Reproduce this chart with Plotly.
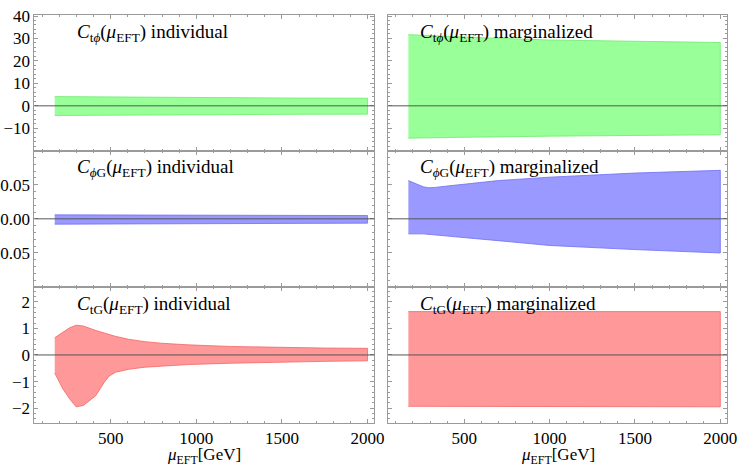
import plotly.graph_objects as go

# ---------- data ----------
# C_tphi individual / marginalized
mu_tphi = [173, 500, 1000, 1500, 2000]
tphi_ind_hi = [4.1, 3.9, 3.7, 3.5, 3.4]
tphi_ind_lo = [-4.3, -4.1, -3.9, -3.8, -3.7]
tphi_mar_hi = [31.7, 30.6, 29.3, 28.6, 28.2]
tphi_mar_lo = [-14.4, -14.0, -13.5, -13.1, -12.9]

# C_phiG individual / marginalized
mu_phig_ind = [173, 500, 1000, 1500, 2000]
phig_ind_hi = [0.0058, 0.0055, 0.0052, 0.0050, 0.0048]
phig_ind_lo = [-0.0078, -0.0073, -0.0068, -0.0065, -0.0063]
mu_phig_mar = [173, 220, 260, 290, 330, 400, 500, 700, 1000, 1500, 2000]
phig_mar_hi = [0.056, 0.051, 0.047, 0.0455, 0.046, 0.048, 0.051, 0.056, 0.061, 0.067, 0.071]
phig_mar_lo = [-0.022, -0.022, -0.022, -0.022, -0.023, -0.025, -0.027, -0.032, -0.039, -0.045, -0.050]

# C_tG individual / marginalized
mu_tg_ind = [173, 221, 260, 298, 340, 413, 460, 490, 528, 605, 700, 797, 953, 1200, 1500, 1750, 2000]
tg_ind_hi = [0.65, 0.87, 1.02, 1.12, 1.09, 0.92, 0.83, 0.77, 0.70, 0.59, 0.50, 0.44, 0.38, 0.32, 0.28, 0.26, 0.25]
tg_ind_lo = [-0.68, -1.28, -1.65, -1.95, -1.90, -1.53, -1.05, -0.80, -0.65, -0.54, -0.46, -0.41, -0.36, -0.31, -0.26, -0.24, -0.22]
mu_tg_mar = [173, 2000]
tg_mar_hi = [1.63, 1.63]
tg_mar_lo = [-1.93, -1.95]

# ---------- styling ----------
FONT = "Liberation Serif, DejaVu Serif, serif"
FRAME = "#9a9a9a"
X_RANGE = [55, 2040]

GREEN = ("rgb(153,255,153)", "rgb(110,235,110)")
BLUE = ("rgb(153,153,255)", "rgb(110,110,245)")
RED = ("rgb(255,153,153)", "rgb(245,100,100)")

# pixel geometry of the 747x468 frame
W, H = 747, 468
col_px = [(34, 379), (393, 737)]
row_px = [(7, 145), (145, 284), (284, 422)]

rows = [
    dict(rng=[-19.9, 40.5], dtick=10, minor=2,
         tv=None, tt=None,
         lab=("<i>C</i><sub>t<i>ϕ</i></sub>(<i>μ</i><sub>EFT</sub>) individual",
              "<i>C</i><sub>t<i>ϕ</i></sub>(<i>μ</i><sub>EFT</sub>) marginalized"),
         panels=[(mu_tphi, tphi_ind_hi, tphi_ind_lo), (mu_tphi, tphi_mar_hi, tphi_mar_lo)],
         col=GREEN),
    dict(rng=[-0.1, 0.1], dtick=0.05, minor=0.01,
         tv=[0.05, 0.0, -0.05], tt=["0.05", "0.00", "0.05"],
         lab=("<i>C</i><sub><i>ϕ</i>G</sub>(<i>μ</i><sub>EFT</sub>) individual",
              "<i>C</i><sub><i>ϕ</i>G</sub>(<i>μ</i><sub>EFT</sub>) marginalized"),
         panels=[(mu_phig_ind, phig_ind_hi, phig_ind_lo), (mu_phig_mar, phig_mar_hi, phig_mar_lo)],
         col=BLUE),
    dict(rng=[-2.55, 2.55], dtick=1, minor=0.2,
         tv=None, tt=None,
         lab=("<i>C</i><sub>tG</sub>(<i>μ</i><sub>EFT</sub>) individual",
              "<i>C</i><sub>tG</sub>(<i>μ</i><sub>EFT</sub>) marginalized"),
         panels=[(mu_tg_ind, tg_ind_hi, tg_ind_lo), (mu_tg_mar, tg_mar_hi, tg_mar_lo)],
         col=RED),
]

fig = go.Figure()
layout = {}
annotations = []
shapes = []

k = 0
for r, row in enumerate(rows):
    y0, y1 = row_px[r]
    ydom = [(H - y1) / H, (H - y0) / H]
    for c in range(2):
        k += 1
        xa = "x" if k == 1 else f"x{k}"
        ya = "y" if k == 1 else f"y{k}"
        x0p, x1p = col_px[c]
        xdom = [x0p / W, x1p / W]

        mu, hi, lo = row["panels"][c]
        fill, edge = row["col"]
        fig.add_trace(go.Scatter(
            x=list(mu) + list(mu)[::-1],
            y=list(hi) + list(lo)[::-1],
            fill="toself", fillcolor=fill,
            mode="lines", line=dict(color=edge, width=0.8),
            xaxis=xa, yaxis=ya, showlegend=False, hoverinfo="skip",
        ))

        layout["xaxis" if k == 1 else f"xaxis{k}"] = dict(
            domain=xdom, range=X_RANGE, anchor=ya,
            showgrid=False, zeroline=False,
            showline=True, linecolor=FRAME, linewidth=1, mirror="allticks",
            ticks="inside", ticklen=4, tickcolor=FRAME,
            tick0=0, dtick=500,
            minor=dict(ticks="inside", ticklen=2, dtick=100, tickcolor=FRAME, showgrid=False),
            showticklabels=(r == 2), ticklabeloverflow="allow",
            tickfont=dict(family=FONT, size=17, color="black"),
        )
        yax = dict(
            domain=ydom, range=row["rng"], anchor=xa,
            showgrid=False, zeroline=False,
            showline=True, linecolor=FRAME, linewidth=1, mirror="allticks",
            ticks="inside", ticklen=4, tickcolor=FRAME,
            minor=dict(ticks="inside", ticklen=2, dtick=row["minor"], tickcolor=FRAME, showgrid=False),
            showticklabels=(c == 0), ticklabeloverflow="allow",
            tickfont=dict(family=FONT, size=17, color="black"),
        )
        if row["tv"] is not None:
            yax.update(tickmode="array", tickvals=row["tv"], ticktext=row["tt"])
        else:
            yax.update(tick0=0, dtick=row["dtick"])
        layout["yaxis" if k == 1 else f"yaxis{k}"] = yax

        # zero line on top of the band
        shapes.append(dict(type="line", xref=f"{xa} domain", yref=ya,
                           x0=0, x1=1, y0=0, y1=0, layer="above",
                           line=dict(color="#555555", width=1)))

        annotations.append(dict(
            text=row["lab"][c], xref="paper", yref="paper",
            x=(75 if c == 0 else 423) / W, y=(H - (y0 + 18)) / H,
            xanchor="left", yanchor="middle", showarrow=False,
            font=dict(family=FONT, size=19, color="black"),
        ))

for c in range(2):
    x0p, x1p = col_px[c]
    annotations.append(dict(
        text="<i>μ</i><sub>EFT</sub>[GeV]", xref="paper", yref="paper",
        x=(x0p + x1p) / 2 / W, y=(H - 456) / H,
        xanchor="center", yanchor="middle", showarrow=False,
        font=dict(family=FONT, size=17, color="black"),
    ))

fig.update_layout(
    **layout,
    annotations=annotations,
    shapes=shapes,
    width=W, height=H,
    margin=dict(l=0, r=0, t=0, b=0),
    paper_bgcolor="white", plot_bgcolor="white",
    font=dict(family=FONT, color="black"),
)

# the page's default body margin would shift the 747x468 figure out of the window
fig.write_html(
    "out.html",
    config={"displayModeBar": False},
    post_script="document.body.style.margin='0';document.body.style.overflow='hidden';",
)
